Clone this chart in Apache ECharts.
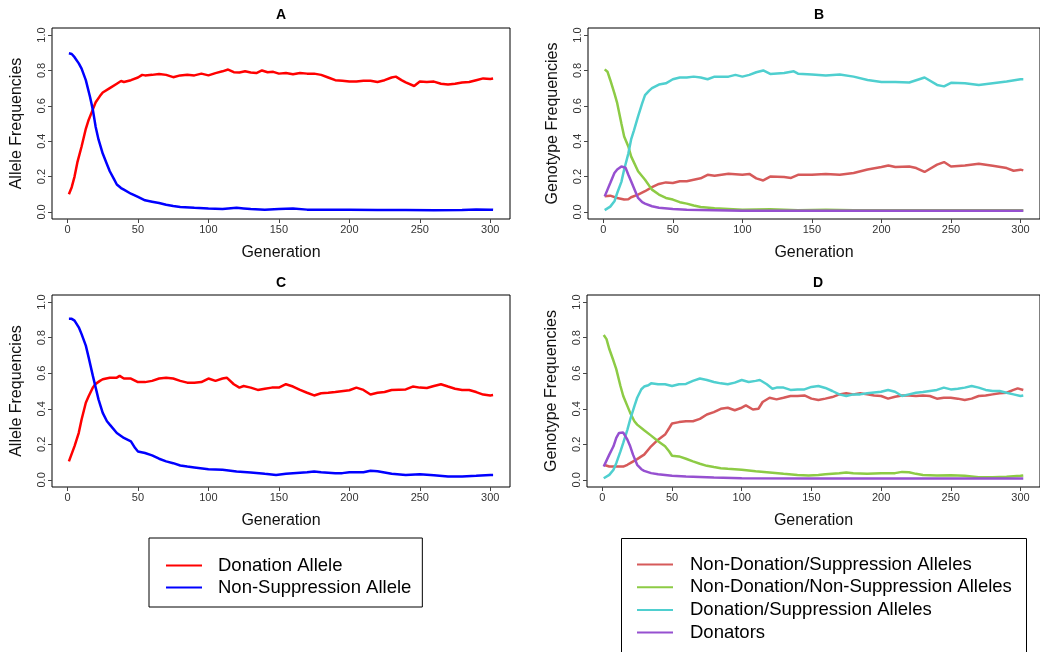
<!DOCTYPE html>
<html><head><meta charset="utf-8">
<script src="https://cdn.jsdelivr.net/npm/echarts@6/dist/echarts.min.js"></script>
<style>html,body{margin:0;padding:0;background:#fff}#c{width:1040px;height:652px}</style>
</head><body><div id="c"></div>
<script>
// ---- data: [generation, frequency] ----
const xTicks = [0, 50, 100, 150, 200, 250, 300];
const yTicks = [0, 0.2, 0.4, 0.6, 0.8, 1.0];
const panelTitles = ['A', 'B', 'C', 'D'];
const alleleNames = ['Donation Allele', 'Non-Suppression Allele'];
const genoNames = ['Non-Donation/Suppression Alleles', 'Non-Donation/Non-Suppression Alleles', 'Donation/Suppression Alleles', 'Donators'];

const A_donation = [[1,0.10],[3,0.14],[5,0.2],[7,0.28],[10,0.37],[13,0.47],[15,0.52],[18,0.58],[20,0.62],[23,0.655],[25,0.675],[30,0.70],[35,0.725],[38,0.74],[40,0.735],[45,0.745],[50,0.76],[53,0.775],[55,0.772],[60,0.775],[65,0.78],[70,0.775],[75,0.762],[80,0.772],[85,0.775],[90,0.772],[95,0.782],[100,0.772],[105,0.785],[110,0.795],[114,0.805],[118,0.79],[122,0.788],[126,0.795],[130,0.788],[134,0.785],[138,0.80],[142,0.79],[146,0.792],[150,0.782],[155,0.785],[160,0.778],[165,0.785],[170,0.782],[175,0.782],[180,0.775],[185,0.76],[190,0.745],[195,0.742],[200,0.737],[205,0.737],[210,0.742],[215,0.742],[220,0.735],[225,0.745],[230,0.76],[233,0.765],[237,0.745],[240,0.732],[246,0.712],[250,0.737],[255,0.735],[260,0.737],[265,0.725],[270,0.72],[275,0.725],[280,0.732],[285,0.735],[290,0.745],[295,0.755],[300,0.752],[302,0.755]];
const A_nonsupp = [[1,0.897],[3,0.893],[5,0.875],[8,0.84],[10,0.81],[13,0.745],[16,0.65],[18,0.577],[20,0.48],[22,0.41],[25,0.33],[28,0.27],[30,0.23],[33,0.185],[35,0.155],[38,0.135],[40,0.126],[45,0.103],[50,0.085],[55,0.066],[60,0.058],[65,0.05],[70,0.041],[75,0.034],[80,0.028],[90,0.023],[100,0.019],[110,0.017],[120,0.024],[125,0.02],[130,0.016],[140,0.013],[150,0.016],[160,0.019],[170,0.013],[180,0.012],[200,0.012],[220,0.011],[240,0.011],[260,0.009],[280,0.011],[290,0.014],[300,0.013],[302,0.012]];

const B_ndSupp = [[1,0.088],[5,0.092],[10,0.079],[15,0.07],[18,0.072],[20,0.083],[25,0.098],[30,0.117],[35,0.14],[40,0.158],[45,0.167],[50,0.164],[55,0.173],[60,0.173],[65,0.182],[70,0.19],[75,0.21],[80,0.205],[90,0.216],[100,0.21],[105,0.215],[110,0.19],[115,0.178],[120,0.20],[130,0.197],[135,0.192],[140,0.21],[150,0.21],[160,0.215],[170,0.21],[180,0.22],[190,0.24],[200,0.254],[205,0.263],[210,0.254],[220,0.257],[225,0.248],[231,0.226],[240,0.267],[245,0.282],[250,0.257],[260,0.263],[270,0.272],[280,0.261],[290,0.248],[295,0.233],[300,0.239],[302,0.235]];
const B_ndNonSupp = [[1,0.806],[3,0.793],[5,0.746],[8,0.67],[10,0.615],[13,0.50],[15,0.427],[18,0.37],[20,0.314],[25,0.23],[30,0.182],[35,0.126],[40,0.098],[45,0.079],[50,0.07],[55,0.055],[60,0.047],[65,0.036],[70,0.028],[80,0.021],[90,0.017],[100,0.013],[120,0.015],[140,0.009],[160,0.012],[180,0.009],[220,0.009],[260,0.009],[302,0.009]];
const B_donSupp = [[1,0.01],[5,0.03],[8,0.06],[10,0.107],[13,0.17],[15,0.24],[18,0.33],[20,0.41],[22,0.46],[25,0.54],[28,0.615],[30,0.66],[33,0.686],[35,0.70],[40,0.72],[45,0.727],[50,0.75],[55,0.76],[60,0.76],[65,0.765],[70,0.76],[75,0.75],[80,0.765],[90,0.765],[95,0.775],[100,0.765],[105,0.775],[110,0.79],[115,0.80],[120,0.78],[130,0.785],[137,0.795],[140,0.782],[150,0.777],[160,0.772],[170,0.777],[180,0.765],[190,0.746],[200,0.735],[210,0.735],[220,0.732],[231,0.76],[240,0.718],[245,0.71],[250,0.73],[260,0.728],[270,0.718],[280,0.728],[290,0.737],[300,0.75],[302,0.75]];
const B_donators = [[1,0.088],[5,0.163],[8,0.22],[10,0.24],[13,0.257],[14,0.26],[16,0.25],[18,0.21],[20,0.173],[22,0.135],[25,0.079],[28,0.055],[30,0.047],[35,0.032],[40,0.024],[50,0.017],[60,0.013],[80,0.01],[100,0.007],[200,0.007],[302,0.007]];

const C_donation = [[1,0.104],[5,0.19],[8,0.265],[10,0.34],[13,0.434],[15,0.47],[18,0.52],[20,0.54],[23,0.557],[25,0.566],[30,0.575],[35,0.575],[37,0.585],[40,0.57],[45,0.57],[50,0.55],[55,0.55],[60,0.557],[65,0.57],[70,0.575],[75,0.57],[80,0.557],[85,0.547],[90,0.547],[95,0.55],[100,0.57],[105,0.557],[110,0.57],[113,0.575],[118,0.538],[122,0.519],[125,0.528],[130,0.519],[135,0.506],[140,0.513],[145,0.519],[150,0.519],[155,0.538],[160,0.525],[165,0.506],[170,0.49],[175,0.475],[180,0.487],[185,0.49],[190,0.494],[200,0.504],[205,0.519],[210,0.506],[215,0.48],[220,0.49],[225,0.494],[230,0.506],[240,0.509],[245,0.525],[250,0.519],[255,0.517],[260,0.528],[265,0.538],[270,0.525],[275,0.513],[280,0.506],[285,0.506],[290,0.494],[295,0.48],[300,0.475],[302,0.477]];
const C_nonsupp = [[1,0.906],[3,0.906],[5,0.896],[8,0.858],[10,0.82],[13,0.755],[15,0.689],[18,0.585],[20,0.519],[22,0.453],[25,0.377],[28,0.33],[30,0.311],[35,0.264],[40,0.236],[45,0.217],[48,0.179],[50,0.16],[55,0.151],[60,0.138],[65,0.119],[70,0.104],[75,0.094],[80,0.081],[85,0.075],[90,0.07],[100,0.06],[110,0.057],[120,0.047],[130,0.042],[140,0.034],[148,0.028],[155,0.034],[160,0.038],[170,0.043],[175,0.047],[180,0.043],[190,0.038],[195,0.038],[200,0.043],[210,0.043],[215,0.051],[220,0.049],[225,0.042],[230,0.034],[240,0.028],[250,0.032],[260,0.026],[270,0.019],[280,0.019],[290,0.023],[300,0.028],[302,0.028]];

const D_ndSupp = [[1,0.085],[5,0.075],[10,0.075],[15,0.075],[18,0.085],[20,0.094],[25,0.117],[28,0.132],[30,0.142],[35,0.189],[40,0.226],[45,0.255],[48,0.292],[50,0.317],[55,0.325],[60,0.33],[65,0.33],[70,0.343],[75,0.368],[80,0.381],[85,0.40],[90,0.406],[95,0.392],[100,0.406],[103,0.419],[108,0.396],[112,0.40],[115,0.438],[120,0.462],[125,0.453],[130,0.462],[135,0.472],[140,0.472],[145,0.475],[150,0.457],[155,0.449],[160,0.457],[165,0.466],[170,0.481],[175,0.487],[180,0.481],[185,0.487],[190,0.481],[195,0.475],[200,0.472],[205,0.457],[210,0.468],[215,0.475],[220,0.475],[225,0.472],[230,0.475],[235,0.472],[240,0.457],[245,0.462],[250,0.462],[255,0.457],[260,0.449],[265,0.457],[270,0.472],[275,0.475],[280,0.481],[285,0.487],[290,0.49],[295,0.506],[298,0.515],[302,0.506]];
const D_ndNonSupp = [[1,0.815],[3,0.792],[5,0.736],[8,0.67],[10,0.623],[13,0.528],[15,0.472],[18,0.415],[20,0.377],[23,0.33],[25,0.311],[30,0.279],[35,0.249],[40,0.217],[45,0.189],[48,0.16],[50,0.136],[55,0.132],[60,0.119],[65,0.104],[70,0.091],[75,0.079],[80,0.072],[85,0.066],[90,0.062],[100,0.057],[110,0.049],[120,0.042],[130,0.034],[140,0.028],[148,0.025],[155,0.028],[160,0.032],[170,0.038],[175,0.042],[180,0.038],[190,0.034],[200,0.038],[210,0.038],[215,0.045],[220,0.043],[225,0.034],[230,0.028],[240,0.025],[250,0.026],[260,0.023],[270,0.015],[280,0.015],[290,0.017],[300,0.023],[302,0.025]];
const D_donSupp = [[1,0.009],[5,0.028],[8,0.057],[10,0.094],[13,0.16],[15,0.208],[18,0.283],[20,0.34],[23,0.415],[25,0.462],[28,0.51],[30,0.525],[33,0.532],[35,0.543],[40,0.538],[45,0.538],[50,0.528],[55,0.538],[60,0.54],[65,0.557],[70,0.57],[75,0.562],[80,0.551],[85,0.543],[90,0.538],[95,0.547],[100,0.562],[105,0.551],[110,0.557],[113,0.562],[118,0.538],[122,0.513],[125,0.519],[130,0.519],[135,0.506],[140,0.509],[145,0.509],[150,0.523],[155,0.528],[160,0.517],[165,0.5],[170,0.481],[175,0.472],[180,0.481],[185,0.481],[190,0.487],[200,0.496],[205,0.506],[210,0.496],[215,0.472],[220,0.481],[225,0.49],[230,0.494],[240,0.506],[245,0.519],[250,0.509],[255,0.513],[260,0.519],[265,0.528],[270,0.519],[275,0.506],[280,0.5],[285,0.5],[290,0.49],[295,0.481],[300,0.472],[302,0.475]];
const D_donators = [[1,0.075],[5,0.142],[8,0.189],[10,0.236],[12,0.264],[13,0.274],[15,0.266],[18,0.226],[20,0.189],[22,0.142],[25,0.085],[28,0.06],[30,0.051],[35,0.038],[40,0.032],[45,0.028],[50,0.023],[60,0.019],[80,0.013],[100,0.009],[150,0.008],[200,0.008],[302,0.008]];

// ---- styling / layout ----
const FONT = 'Liberation Sans, Arial, Helvetica, sans-serif';
const alleleColors = ['#ff0000', '#0000ff'];
const genoColors = ['#d65a5a', '#8dcb45', '#4fcfcf', '#9650d0'];
const grids = [
  {left: 52, top: 28, width: 458, height: 191},
  {left: 588, top: 28, width: 462, height: 191},
  {left: 52, top: 295, width: 458, height: 192},
  {left: 587, top: 295, width: 462, height: 192}
];
const yNames = ['Allele Frequencies', 'Genotype Frequencies', 'Allele Frequencies', 'Genotype Frequencies'];

const chart = echarts.init(document.getElementById('c'), null, {renderer: 'canvas'});

const xAxes = grids.map((g, i) => ({
  type: 'value', gridIndex: i, min: -11, max: 314,
  name: 'Generation', nameLocation: 'middle', nameGap: 26,
  nameTextStyle: {fontFamily: FONT, fontSize: 16, color: '#111'},
  axisLine: {show: false, onZero: false},
  axisTick: {show: true, length: 4, customValues: xTicks, lineStyle: {color: '#444'}},
  axisLabel: {customValues: xTicks, margin: 5, fontFamily: FONT, fontSize: 11, color: '#333'},
  splitLine: {show: false}
}));
const yAxes = grids.map((g, i) => ({
  type: 'value', gridIndex: i, min: -0.04, max: 1.04,
  name: yNames[i], nameLocation: 'middle', nameGap: 27,
  nameTextStyle: {fontFamily: FONT, fontSize: 16, color: '#111'},
  axisLine: {show: false, onZero: false},
  axisTick: {show: true, length: 4, customValues: yTicks, lineStyle: {color: '#444'}},
  axisLabel: {customValues: yTicks, rotate: 90, margin: 5, fontFamily: FONT, fontSize: 11, color: '#333',
    formatter: v => v.toFixed(1)},
  splitLine: {show: false}
}));

function mk(name, data, color, idx) {
  return {type: 'line', name, data, xAxisIndex: idx, yAxisIndex: idx, showSymbol: false,
    symbol: 'none', lineStyle: {width: 2.5, color}, itemStyle: {color}, animation: false};
}
const series = [
  mk(alleleNames[0], A_donation, alleleColors[0], 0),
  mk(alleleNames[1], A_nonsupp, alleleColors[1], 0),
  mk(genoNames[0], B_ndSupp, genoColors[0], 1),
  mk(genoNames[1], B_ndNonSupp, genoColors[1], 1),
  mk(genoNames[2], B_donSupp, genoColors[2], 1),
  mk(genoNames[3], B_donators, genoColors[3], 1),
  mk(alleleNames[0], C_donation, alleleColors[0], 2),
  mk(alleleNames[1], C_nonsupp, alleleColors[1], 2),
  mk(genoNames[0], D_ndSupp, genoColors[0], 3),
  mk(genoNames[1], D_ndNonSupp, genoColors[1], 3),
  mk(genoNames[2], D_donSupp, genoColors[2], 3),
  mk(genoNames[3], D_donators, genoColors[3], 3)
];

const titles = grids.map((g, i) => ({
  text: panelTitles[i], left: g.left + (i % 2 ? 231 : 229), top: i < 2 ? 8 : 276, textAlign: 'center', padding: 0,
  textStyle: {fontFamily: FONT, fontSize: 14, fontWeight: 'bold', color: '#000'}
}));

chart.setOption({
  animation: false,
  backgroundColor: '#fff',
  title: titles,
  grid: grids.map(g => Object.assign({show: true, borderColor: '#000', borderWidth: 1, containLabel: false}, g)),
  xAxis: xAxes,
  yAxis: yAxes,
  graphic: [
    {type: 'rect', shape: {x: 621.5, y: 538.5, width: 405, height: 130}, style: {fill: 'none', stroke: '#000', lineWidth: 1}, silent: true}
  ],
  legend: [
    {data: alleleNames, orient: 'vertical', left: 149, top: 538, icon: 'rect', itemWidth: 36, itemHeight: 2,
      itemGap: 3, padding: [18, 11, 10, 17], borderColor: '#000', borderWidth: 1, selectedMode: false,
      textStyle: {fontFamily: FONT, fontSize: 18.5, color: '#000', lineHeight: 16, padding: [0, 0, 0, 11]}},
    {data: genoNames, orient: 'vertical', left: 637, top: 555, icon: 'rect', itemWidth: 36, itemHeight: 2,
      itemGap: 3.7, padding: 0, selectedMode: false,
      textStyle: {fontFamily: FONT, fontSize: 18.5, color: '#000', lineHeight: 16, padding: [0, 0, 0, 12]}}
  ],
  series
});
</script></body></html>
